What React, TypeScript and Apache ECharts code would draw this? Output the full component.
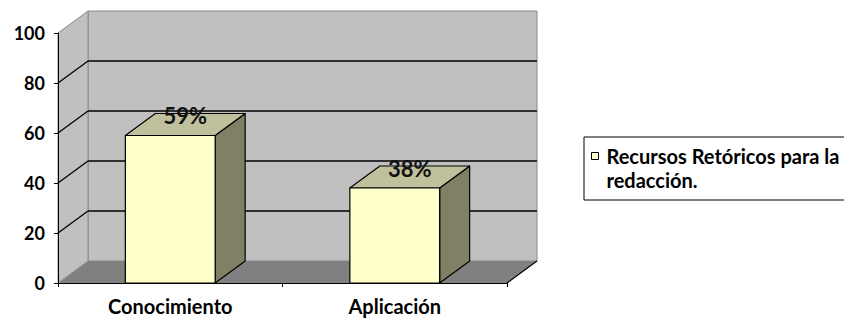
import React, { useEffect, useRef } from 'react';
import * as echarts from 'echarts';

const categories = ['Conocimiento', 'Aplicación'];
const values = [59, 38];
const seriesName = 'Recursos Retóricos para la redacción.';
const yTicks = [0, 20, 40, 60, 80, 100];

const DX = 30;
const DY = -22;
const FONT = 'Lato, "Open Sans", sans-serif';

export default function App() {
  const ref = useRef<HTMLDivElement>(null);

  useEffect(() => {
    document.body.style.margin = '0';
    const chart = echarts.init(ref.current as HTMLDivElement, null, { renderer: 'svg' });
    const yMin = yTicks[0];
    const yMax = yTicks[yTicks.length - 1];
    const innerTicks = yTicks.filter((v) => v > yMin && v < yMax);

    const option: any = {
      animation: false,
      grid: { left: 58, right: 337, top: 33, bottom: 35, containLabel: false },
      legend: {
        data: [{ name: seriesName, icon: 'path://M0,0L7,0L7,7L0,7Z M0,31' }],
        left: 584,
        top: 137,
        orient: 'vertical',
        itemWidth: 7,
        itemHeight: 31,
        padding: [7, 24, 8, 7],
        borderColor: '#000',
        borderWidth: 1,
        borderRadius: 0,
        backgroundColor: '#fff',
        selectedMode: false,
        itemStyle: { borderColor: '#000', borderWidth: 1 },
        textStyle: {
          fontFamily: FONT,
          fontWeight: 'bold',
          fontSize: 20,
          lineHeight: 24,
          color: '#000',
          padding: [0, 0, 0, 3],
        },
        formatter: (name: string) => name.replace('para la ', 'para la\n'),
      },
      xAxis: {
        type: 'category',
        data: categories,
        boundaryGap: true,
        z: 10,
        axisLine: { show: true, lineStyle: { color: '#000', width: 1 } },
        axisTick: { show: true, length: 4, lineStyle: { color: '#000' } },
        axisLabel: {
          fontFamily: FONT,
          fontWeight: 'bold',
          fontSize: 20,
          lineHeight: 20,
          color: '#000',
          margin: 13,
        },
        splitLine: { show: false },
      },
      yAxis: {
        type: 'value',
        min: yMin,
        max: yMax,
        interval: 20,
        z: 10,
        axisLine: { show: true, lineStyle: { color: '#000', width: 1 } },
        axisTick: { show: true, length: 4, lineStyle: { color: '#000' } },
        axisLabel: { fontFamily: FONT, fontWeight: 'bold', fontSize: 18, color: '#000', margin: 13 },
        splitLine: { show: false },
      },
      series: [
        {
          type: 'custom',
          name: 'walls',
          silent: true,
          clip: false,
          z: 1,
          encode: { x: 0, y: 1 },
          data: [[0, yMin]],
          renderItem: (params: any, api: any) => {
            const cs = params.coordSys;
            const x0 = cs.x;
            const x1 = cs.x + cs.width;
            const yb = api.coord([0, yMin])[1];
            const yt = api.coord([0, yMax])[1];
            return {
              type: 'group',
              children: [
                {
                  type: 'polygon',
                  shape: { points: [[x0 + DX, yt + DY], [x1 + DX, yt + DY], [x1 + DX, yb + DY], [x0 + DX, yb + DY]] },
                  style: { fill: '#C0C0C0', stroke: '#8A8A8A', lineWidth: 1 },
                },
                {
                  type: 'polygon',
                  shape: { points: [[x0, yt], [x0 + DX, yt + DY], [x0 + DX, yb + DY], [x0, yb]] },
                  style: { fill: '#C0C0C0', stroke: '#8A8A8A', lineWidth: 1 },
                },
                {
                  type: 'polygon',
                  shape: { points: [[x0, yb], [x1, yb], [x1 + DX, yb + DY], [x0 + DX, yb + DY]] },
                  style: { fill: '#808080', stroke: 'none' },
                },
                {
                  type: 'line',
                  shape: { x1: x1, y1: yb, x2: x1 + DX, y2: yb + DY },
                  style: { stroke: '#000', lineWidth: 1.2 },
                },
                {
                  type: 'line',
                  shape: { x1: x0, y1: yb, x2: x0 + DX, y2: yb + DY },
                  style: { stroke: '#9A9A9A', lineWidth: 1 },
                },
              ],
            };
          },
        },
        {
          type: 'custom',
          name: 'gridlines',
          silent: true,
          clip: false,
          z: 2,
          encode: { x: 0, y: 1 },
          data: innerTicks.map((v) => [0, v]),
          renderItem: (params: any, api: any) => {
            const cs = params.coordSys;
            const x0 = cs.x;
            const x1 = cs.x + cs.width;
            const y = api.coord([0, api.value(1)])[1];
            return {
              type: 'group',
              children: [
                {
                  type: 'line',
                  shape: { x1: x0, y1: y, x2: x0 + DX, y2: y + DY },
                  style: { stroke: '#000', lineWidth: 1.3 },
                },
                {
                  type: 'line',
                  shape: { x1: x0 + DX, y1: y + DY, x2: x1 + DX, y2: y + DY },
                  style: { stroke: '#000', lineWidth: 1.3 },
                },
              ],
            };
          },
        },
        {
          type: 'custom',
          name: seriesName,
          clip: false,
          z: 3,
          itemStyle: { color: '#FFFFCC' },
          encode: { x: 0, y: 1 },
          data: values.map((v, i) => [i, v]),
          renderItem: (params: any, api: any) => {
            const idx = api.value(0);
            const v = api.value(1);
            const top = api.coord([idx, v]);
            const bot = api.coord([idx, yMin]);
            const cx = top[0];
            const ytop = top[1];
            const ybot = bot[1];
            const bw = api.size([1, 0])[0] * 0.4;
            const xl = cx - bw / 2;
            const xr = cx + bw / 2;
            const edge = { stroke: '#000', lineWidth: 1.2, lineJoin: 'round' };
            return {
              type: 'group',
              children: [
                {
                  type: 'polygon',
                  shape: { points: [[xr, ytop], [xr + DX, ytop + DY], [xr + DX, ybot + DY], [xr, ybot]] },
                  style: { fill: '#808066', ...edge },
                },
                {
                  type: 'polygon',
                  shape: { points: [[xl, ytop], [xr, ytop], [xr + DX, ytop + DY], [xl + DX, ytop + DY]] },
                  style: { fill: '#C0C09C', ...edge },
                },
                {
                  type: 'rect',
                  shape: { x: xl, y: ytop, width: bw, height: ybot - ytop },
                  style: { fill: '#FFFFCC', ...edge },
                },
                {
                  type: 'text',
                  x: cx + DX / 2,
                  y: ytop + DY + 2,
                  style: {
                    text: v + '%',
                    align: 'center',
                    verticalAlign: 'middle',
                    font: 'bold 22px ' + FONT,
                    fill: '#111',
                  },
                },
              ],
            };
          },
        },
      ],
    };

    chart.setOption(option);
    return () => chart.dispose();
  }, []);

  return <div ref={ref} style={{ width: 844, height: 318 }} />;
}
